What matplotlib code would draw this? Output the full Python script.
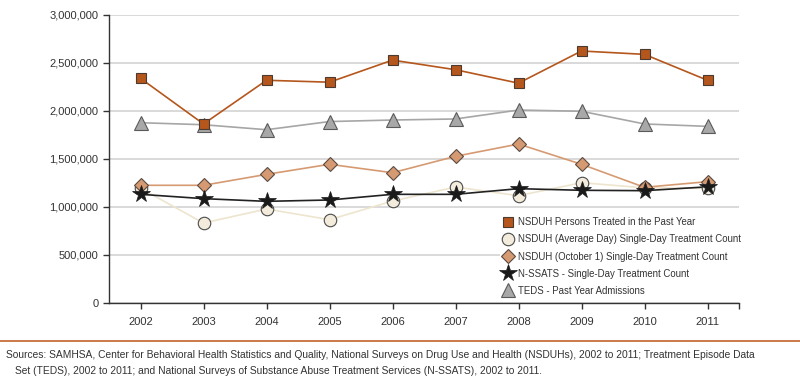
import matplotlib
matplotlib.use('Agg')
import matplotlib.pyplot as plt
from matplotlib.ticker import FuncFormatter

plt.rcParams['font.family'] = ['Liberation Sans', 'DejaVu Sans']

years = [2002, 2003, 2004, 2005, 2006, 2007, 2008, 2009, 2010, 2011]
nsduh_past_year = [2340000, 1865000, 2320000, 2300000, 2530000, 2430000, 2290000, 2625000, 2590000, 2320000]
nsduh_avg_day = [1195000, 833000, 979000, 868000, 1062000, 1208000, 1118000, 1253000, 1200000, 1195000]
nsduh_oct1 = [1226000, 1226000, 1340000, 1445000, 1357000, 1528000, 1656000, 1445000, 1205000, 1264000]
nssats = [1132000, 1087000, 1059000, 1073000, 1132000, 1132000, 1191000, 1174000, 1170000, 1210000]
teds = [1878000, 1857000, 1805000, 1890000, 1906000, 1917000, 2010000, 1997000, 1865000, 1840000]

labels = ['NSDUH Persons Treated in the Past Year',
          'NSDUH (Average Day) Single-Day Treatment Count',
          'NSDUH (October 1) Single-Day Treatment Count',
          'N-SSATS - Single-Day Treatment Count',
          'TEDS - Past Year Admissions']

fig = plt.figure(figsize=(8, 3.82), dpi=100)
ax = fig.add_axes([109 / 800, 1 - 303 / 382, 630 / 800, 288 / 382])

# lines drawn first, markers on top
ax.plot(years, teds, color='#A6A6A6', lw=1.2, zorder=2)
ax.plot(years, nsduh_avg_day, color='#EEE5CF', lw=1.2, zorder=2)
ax.plot(years, nsduh_oct1, color='#D69A72', lw=1.2, zorder=2)
ax.plot(years, nssats, color='#222222', lw=1.2, zorder=2)
ax.plot(years, nsduh_past_year, color='#B5561C', lw=1.2, zorder=2)

h_teds, = ax.plot(years, teds, ls='none', marker='^', ms=10, mfc='#A8A8A8', mec='#5A5A5A', mew=0.8, zorder=3)
h_avg, = ax.plot(years, nsduh_avg_day, ls='none', marker='o', ms=9, mfc='#F3ECDC', mec='#4A4A4A', mew=0.8, zorder=3)
h_oct, = ax.plot(years, nsduh_oct1, ls='none', marker='D', ms=7.5, mfc='#D69A72', mec='#5A4A40', mew=0.8, zorder=4)
h_ns, = ax.plot(years, nssats, ls='none', marker='*', ms=13, mfc='#1A1A1A', mec='#1A1A1A', mew=0.5, zorder=5)
h_py, = ax.plot(years, nsduh_past_year, ls='none', marker='s', ms=7.5, mfc='#B5561C', mec='#4A3A30', mew=0.8, zorder=4)

ax.set_xlim(2001.5, 2011.5)
ax.set_ylim(0, 3000000)
ax.set_xticks(years + [2011.5])
ax.set_xticklabels([str(y) for y in years] + [''])
ax.set_yticks(range(0, 3000001, 500000))
ax.yaxis.set_major_formatter(FuncFormatter(lambda v, p: '{:,.0f}'.format(v)))
ax.grid(axis='y', color='#D3D3D3', lw=1.2, zorder=0)
ax.set_axisbelow(True)
for s in ['top', 'right']:
    ax.spines[s].set_visible(False)
for s in ['left', 'bottom']:
    ax.spines[s].set_color('#333333')
    ax.spines[s].set_linewidth(1.0)
ax.tick_params(axis='both', direction='out', length=4, width=1.0, color='#333333',
               labelsize=8, labelcolor='#333333')
ax.tick_params(axis='x', pad=6)

leg = fig.legend([h_py, h_avg, h_oct, h_ns, h_teds], labels, loc='upper left',
                 bbox_to_anchor=(500 / 800, 1 - 215 / 382), frameon=True, fontsize=6.9,
                 handlelength=1.2, handletextpad=0.4, labelspacing=0.74, borderpad=0.25,
                 borderaxespad=0)
leg.get_frame().set_facecolor('white')
leg.get_frame().set_edgecolor('none')
leg.get_frame().set_alpha(1)
for t in leg.get_texts():
    t.set_color('#333333')

# orange separator line and sources note
fig.add_artist(plt.Line2D([0, 1], [1 - 341 / 382, 1 - 341 / 382], color='#C8703A', lw=1.3))
fig.text(6 / 800, 1 - 355 / 382,
         'Sources: SAMHSA, Center for Behavioral Health Statistics and Quality, National Surveys on Drug Use and Health (NSDUHs), 2002 to 2011; Treatment Episode Data',
         fontsize=7.4, color='#333333', va='center')
fig.text(15 / 800, 1 - 371 / 382,
         'Set (TEDS), 2002 to 2011; and National Surveys of Substance Abuse Treatment Services (N-SSATS), 2002 to 2011.',
         fontsize=7.4, color='#333333', va='center')

fig.savefig('out.png', dpi=100)
